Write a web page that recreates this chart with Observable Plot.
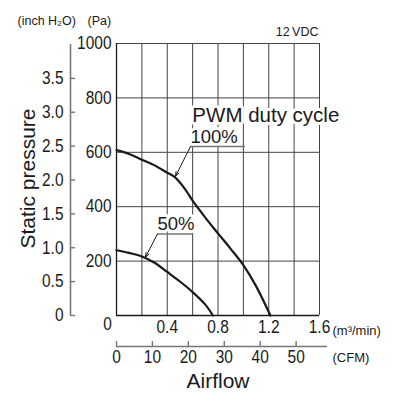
<!DOCTYPE html>
<html>
<head>
<meta charset="utf-8">
<script src="https://cdn.jsdelivr.net/npm/d3@7"></script>
<script src="https://cdn.jsdelivr.net/npm/@observablehq/plot@0.6"></script>
<style>
  html, body { margin: 0; padding: 0; background: #fff; }
  #chart { width: 395px; height: 404px; }
</style>
</head>
<body>
<div id="chart"></div>
<script>
// ---- Data ----
// Airflow (m3/min) vs static pressure (Pa)
const duty100 = [
  [0, 608], [0.1, 594], [0.2, 573], [0.3, 552], [0.4, 525], [0.45, 512], [0.5, 489],
  [0.55, 458], [0.6, 422], [0.7, 360], [0.8, 302], [0.9, 245], [1.0, 185], [1.1, 108], [1.213, 0]
];
const duty50 = [
  [0, 240], [0.1, 230], [0.2, 217], [0.3, 194], [0.4, 160], [0.5, 125],
  [0.6, 86], [0.7, 40], [0.76, 0]
];
const paTicks = [200, 400, 600, 800, 1000];
const paGrid = [200, 400, 600, 800, 1000];
const m3Grid = [0.2, 0.4, 0.6, 0.8, 1.0, 1.2, 1.4, 1.6];
const m3Labels = [0.4, 0.8, 1.2, 1.6];
const inchTicks = [0, 0.5, 1.0, 1.5, 2.0, 2.5, 3.0, 3.5];
const inchMax = 4.0;
const cfmTicks = [0, 10, 20, 30, 40, 50];
const cfmMax = 58.7;
const PA_PER_INCH = 249.09;
const CFM_PER_M3 = 35.315;

// annotation anchors in data units
const labels = [
  {x: 0.598, y: 734, text: "PWM duty cycle", size: 20.5},
  {x: 0.583, y: 655, text: "100%", size: 18.5},
  {x: 0.323, y: 335, text: "50%", size: 18.5}
];
const underlines = [
  {y: 621, x1: 0.583, x2: 1.016},
  {y: 300, x1: 0.323, x2: 0.606}
];
const leaders = [
  {x1: 0.583, y1: 621, x2: 0.465, y2: 512},
  {x1: 0.323, y1: 300, x2: 0.228, y2: 214}
];

const sans = "'Liberation Sans', Arial, Helvetica, sans-serif";
const narrow = "'Liberation Sans Narrow', 'Liberation Sans', sans-serif";
const ink = "#1a1a1a";

const toRows = a => a.map(([x, y]) => ({x, y}));

const chart = Plot.plot({
  width: 395,
  height: 404,
  marginLeft: 116,
  marginRight: 76,
  marginTop: 43,
  marginBottom: 89,
  style: {background: "#fff", fontFamily: sans, color: ink, overflow: "visible"},
  x: {domain: [0, 1.6], axis: null},
  y: {domain: [0, 1000], axis: null},
  marks: [
    // grid
    Plot.ruleX(m3Grid, {x: d => d, y1: 0, y2: 1000, stroke: "#444", strokeWidth: 1}),
    Plot.ruleY(paGrid, {y: d => d, x1: 0, x2: 1.6, stroke: "#444", strokeWidth: 1}),
    // frame axes
    Plot.ruleX([0], {y1: 0, y2: 1000, stroke: ink, strokeWidth: 1.3}),
    Plot.ruleY([0], {x1: 0, x2: 1.6, stroke: ink, strokeWidth: 1.3}),
    // secondary inch H2O axis
    Plot.ruleX([0], {y1: 0, y2: inchMax * PA_PER_INCH, dx: -46, stroke: "#777", strokeWidth: 1.6}),
    Plot.ruleY(inchTicks, {y: d => d * PA_PER_INCH, x1: 0, x2: 0.04, dx: -46, stroke: "#777", strokeWidth: 1.4}),
    Plot.text(inchTicks, {x: () => 0, y: d => d * PA_PER_INCH, text: d => d === 0 ? "0" : d.toFixed(1),
      dx: -53, textAnchor: "end", fontFamily: narrow, fontSize: 18, fill: ink}),
    // secondary CFM axis
    Plot.ruleY([0], {x1: 0, x2: cfmMax / CFM_PER_M3, dy: 31, stroke: "#777", strokeWidth: 1.6}),
    Plot.ruleX(cfmTicks, {x: d => d / CFM_PER_M3, y1: 0, y2: 18, dy: 31, stroke: "#777", strokeWidth: 1.4}),
    Plot.text(cfmTicks, {x: d => d / CFM_PER_M3, y: () => 0, text: d => String(d), dy: 42,
      fontFamily: narrow, fontSize: 18, fill: ink}),
    Plot.text(["(CFM)"], {x: () => 1.6, y: () => 0, text: d => d, dx: 13, dy: 42, textAnchor: "start", fontSize: 13, fill: ink}),
    // primary axis labels
    Plot.text(paTicks, {x: () => 0, y: d => d, text: d => String(d), dx: -5, textAnchor: "end",
      fontFamily: narrow, fontSize: 18, fill: ink}),
    Plot.text([0], {x: () => 0, y: () => 0, text: () => "0", dx: -9, dy: 9, fontFamily: narrow, fontSize: 18, fill: ink}),
    Plot.text(m3Labels, {x: d => d, y: () => 0, text: d => d.toFixed(1), dy: 12,
      fontFamily: narrow, fontSize: 18, fill: ink}),
    Plot.text(["(m³/min)"], {x: () => 1.6, y: () => 0, text: d => d, dx: 13, dy: 15, textAnchor: "start", fontSize: 13, fill: ink}),
    // titles
    Plot.text(["Airflow"], {x: () => 0.8, y: () => 0, text: d => d, dy: 66, fontSize: 21, fill: ink}),
    Plot.text(["Static pressure"], {frameAnchor: "left", textAnchor: "middle", text: d => d, rotate: -90, dx: -88, dy: -1, fontSize: 21, fill: ink}),
    Plot.text(["(inch H\u2082O)"], {x: () => 0, y: () => 1000, text: d => d, dx: -99, dy: -23, textAnchor: "start", fontSize: 12.5, fill: ink}),
    Plot.text(["(Pa)"], {x: () => 0, y: () => 1000, text: d => d, dx: -29, dy: -23, textAnchor: "start", fontSize: 12.5, fill: ink}),
    Plot.text(["12\u2009VDC"], {x: () => 1.6, y: () => 1000, text: d => d, dx: -1, dy: -12, textAnchor: "end", fontSize: 12.5, fill: ink}),
    // curves
    Plot.line(toRows(duty100), {x: "x", y: "y", curve: "catmull-rom", stroke: ink, strokeWidth: 2.2}),
    Plot.line(toRows(duty50), {x: "x", y: "y", curve: "catmull-rom", stroke: ink, strokeWidth: 2.2}),
    // annotations
    Plot.text(labels, {x: "x", y: "y", text: "text", fontSize: d => d.size, textAnchor: "start",
      fill: ink, stroke: "#fff", strokeWidth: 6, paintOrder: "stroke"}),
    Plot.ruleY(underlines, {y: "y", x1: "x1", x2: "x2", stroke: "#777", strokeWidth: 1.5}),
    Plot.arrow(leaders, {x1: "x1", y1: "y1", x2: "x2", y2: "y2", stroke: ink, strokeWidth: 1, headLength: 7, headAngle: 40})
  ]
});

// condense the numeric tick labels (no narrow face installed)
d3.select(chart).selectAll("g[font-family*='Narrow'] text").each(function() {
  const t = this.getAttribute("transform") || "";
  this.setAttribute("transform", t + " scale(0.86,1)");
});

document.getElementById("chart").appendChild(chart);
</script>
</body>
</html>
